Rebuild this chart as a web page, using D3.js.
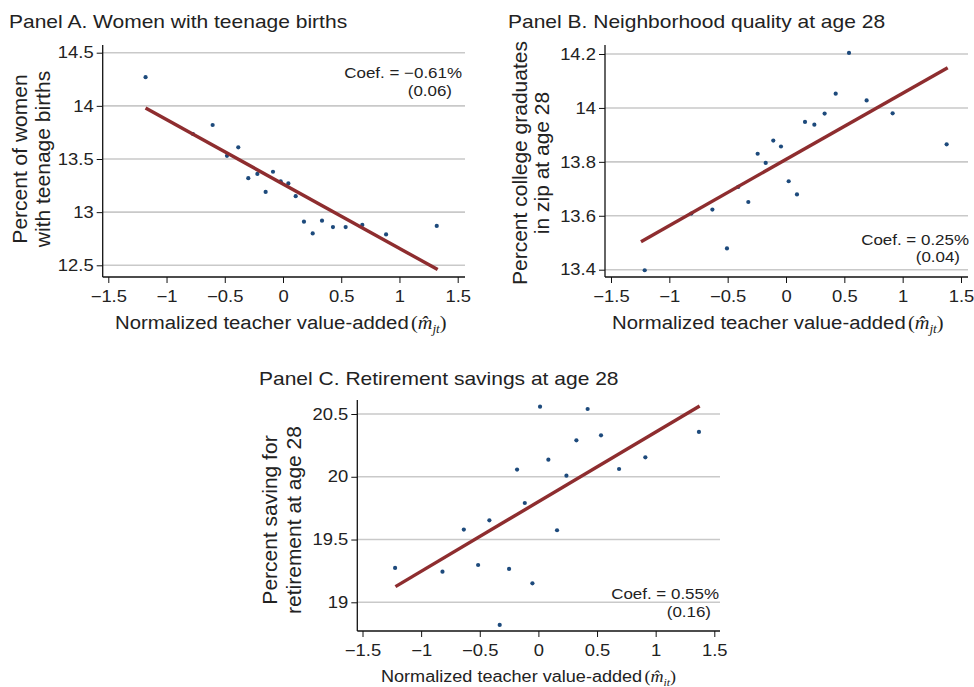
<!DOCTYPE html>
<html lang="en">
<head>
<meta charset="UTF-8">
<title>Teacher value-added and adult outcomes</title>
<script src="https://d3js.org/d3.v7.min.js"></script>
<style>
  body { margin: 0; background: #fff; }
  svg text { font-family: "Liberation Sans", Arial, sans-serif; fill: #222; }
</style>
</head>
<body>
<svg id="viz" width="974" height="687"></svg>
<script>
// x values (normalized teacher VA bins) and outcomes
var xA = [-1.18, -0.773, -0.604, -0.481, -0.384, -0.298, -0.220, -0.149, -0.086, -0.020,
          0.046, 0.109, 0.180, 0.255, 0.335, 0.429, 0.538, 0.681, 0.885, 1.32];
var yA = [14.27, 13.735, 13.82, 13.53, 13.61, 13.32, 13.36, 13.19, 13.38, 13.29,
          13.27, 13.15, 12.91, 12.80, 12.92, 12.86, 12.86, 12.88, 12.79, 12.87];
var fitAx = [-1.18, 1.328];
var fitAy = [13.98, 12.46];

var xB = [-1.211, -0.811, -0.631, -0.506, -0.409, -0.323, -0.243, -0.174, -0.109, -0.043,
          0.023, 0.094, 0.163, 0.243, 0.331, 0.426, 0.540, 0.691, 0.914, 1.377];
var yB = [13.398, 13.608, 13.623, 13.479, 13.707, 13.651, 13.830, 13.796, 13.879, 13.857,
          13.728, 13.679, 13.948, 13.938, 13.979, 14.053, 14.204, 14.028, 13.980, 13.865];
var fitBx = [-1.243, 1.386];
var fitBy = [13.504, 14.149];

var xC = [-1.222, -0.818, -0.636, -0.514, -0.418, -0.330, -0.250, -0.182, -0.116, -0.051,
          0.014, 0.085, 0.159, 0.239, 0.324, 0.420, 0.534, 0.688, 0.912, 1.369];
var yC = [19.274, 19.244, 19.579, 19.297, 19.653, 18.82, 19.266, 20.057, 19.791, 19.151,
          20.558, 20.136, 19.574, 20.009, 20.29, 20.54, 20.33, 20.062, 20.155, 20.357];
var fitCx = [-1.219, 1.375];
var fitCy = [19.125, 20.564];

var xTicks = [-1.5, -1, -0.5, 0, 0.5, 1, 1.5];
var yTicksA = [12.5, 13, 13.5, 14, 14.5];
var yTicksB = [13.4, 13.6, 13.8, 14, 14.2];
var yTicksC = [19, 19.5, 20, 20.5];

var svg = d3.select("#viz");
var fmt = d3.format("~g");
var SX = 1.13; // the original type is a bit wider than Liberation Sans

// horizontally stretched text at (x, y)
function stext(parent, x, y, size, anchor) {
  return parent.append("text")
    .attr("transform", "translate(" + x + "," + y + ") scale(" + SX + ",1)")
    .attr("text-anchor", anchor || "start")
    .style("font-size", size + "px");
}

function panel(p) {
  var x = d3.scaleLinear().domain([-1.5, 1.5]).range(p.xr);
  var y = d3.scaleLinear().domain(p.yd).range(p.yr);
  var g = svg.append("g");

  // title
  stext(g, p.title[0], p.title[1], 18.6).text(p.titleText);

  // gridlines
  g.selectAll(".grid").data(p.yTicks).enter().append("line")
    .attr("x1", p.left).attr("x2", p.right)
    .attr("y1", function(d) { return y(d); }).attr("y2", function(d) { return y(d); })
    .attr("stroke", "#c9c9c9").attr("stroke-width", 1.6);

  // y axis
  var ya = g.append("g").attr("transform", "translate(" + p.left + ",0)")
    .call(d3.axisLeft(y).tickValues(p.yTicks).tickFormat(fmt).tickSize(6).tickPadding(2));
  ya.select(".domain").remove();
  ya.selectAll("line").attr("stroke", "#111");
  ya.selectAll("text").style("font-size", "16.3px").style("font-family", "Liberation Sans")
    .attr("transform", "scale(" + SX + ",1)");
  g.append("line").attr("x1", p.left).attr("x2", p.left).attr("y1", p.top).attr("y2", p.bottom)
    .attr("stroke", "#111").attr("stroke-width", 1.3);

  // x axis
  var xa = g.append("g").attr("transform", "translate(0," + p.bottom + ")")
    .call(d3.axisBottom(x).tickValues(xTicks).tickFormat(fmt).tickSize(6).tickPadding(7));
  xa.select(".domain").remove();
  xa.selectAll("line").attr("stroke", "#111");
  xa.selectAll("text").style("font-size", "16.3px").style("font-family", "Liberation Sans")
    .attr("transform", "scale(" + SX + ",1)");
  g.append("line").attr("x1", p.left).attr("x2", p.right).attr("y1", p.bottom).attr("y2", p.bottom)
    .attr("stroke", "#111").attr("stroke-width", 1.3);

  // y label (two lines)
  g.selectAll(".ylab").data(p.yLab).enter().append("text")
    .attr("transform", function(d, i) {
      return "translate(" + p.yLabX[i] + "," + p.yLabMid + ") rotate(-90)";
    })
    .attr("text-anchor", "middle").style("font-size", "21px").text(function(d) { return d; });

  // x label with math
  var xl = stext(g, p.xLab[0], p.xLab[1], p.xLabSize);
  xl.append("tspan").text("Normalized teacher value-added");
  xl.append("tspan").attr("dx", 2).style("font-family", "Liberation Serif").text("(");
  xl.append("tspan").style("font-family", "Liberation Serif").style("font-style", "italic")
    .text("m\u0302");
  xl.append("tspan").attr("dy", 4).style("font-family", "Liberation Serif").style("font-style", "italic")
    .style("font-size", (p.xLabSize * 0.65) + "px").text(p.sub);
  xl.append("tspan").attr("dy", -4).style("font-family", "Liberation Serif").text(")");

  // points
  g.selectAll(".pt").data(p.xs).enter().append("circle")
    .attr("cx", function(d) { return x(d); })
    .attr("cy", function(d, i) { return y(p.ys[i]); })
    .attr("r", 2.1).attr("fill", "#1d4a7c");

  // fitted line
  g.append("line")
    .attr("x1", x(p.fx[0])).attr("y1", y(p.fy[0]))
    .attr("x2", x(p.fx[1])).attr("y2", y(p.fy[1]))
    .attr("stroke", "#8e2d2f").attr("stroke-width", 3.4);

  // coefficient
  p.coef.forEach(function(d, i) {
    stext(g, p.coefPos[i][0], p.coefPos[i][1], 15, "end").text(d);
  });
}

panel({
  titleText: "Panel A. Women with teenage births", title: [9, 28],
  xr: [108.3, 457.7], yd: [12.5, 14.5], yr: [265.3, 52.7],
  left: 102.7, right: 465, top: 45, bottom: 277, yTicks: yTicksA,
  yLab: ["Percent of women", "with teenage births"], yLabX: [27, 50], yLabMid: 159,
  xLab: [115, 329], xLabSize: 18, sub: "jt",
  xs: xA, ys: yA, fx: fitAx, fy: fitAy,
  coef: ["Coef. = \u22120.61%", "(0.06)"], coefPos: [[462, 78], [452, 96]]
});

panel({
  titleText: "Panel B. Neighborhood quality at age 28", title: [508, 28],
  xr: [611, 961], yd: [13.4, 14.2], yr: [269.7, 54],
  left: 605, right: 968, top: 45, bottom: 277, yTicks: yTicksB,
  yLab: ["Percent college graduates", "in zip at age 28"], yLabX: [527, 549], yLabMid: 163,
  xLab: [612, 329], xLabSize: 18, sub: "jt",
  xs: xB, ys: yB, fx: fitBx, fy: fitBy,
  coef: ["Coef. = 0.25%", "(0.04)"], coefPos: [[969, 245], [960, 262]]
});

panel({
  titleText: "Panel C. Retirement savings at age 28", title: [259, 385],
  xr: [362.5, 714.3], yd: [19, 20.5], yr: [602.3, 414],
  left: 357.3, right: 720, top: 400, bottom: 631, yTicks: yTicksC,
  yLab: ["Percent saving for", "retirement at age 28"], yLabX: [277, 301], yLabMid: 520,
  xLab: [381, 682], xLabSize: 16, sub: "it",
  xs: xC, ys: yC, fx: fitCx, fy: fitCy,
  coef: ["Coef. = 0.55%", "(0.16)"], coefPos: [[719, 599], [711, 617]]
});
</script>
</body>
</html>
